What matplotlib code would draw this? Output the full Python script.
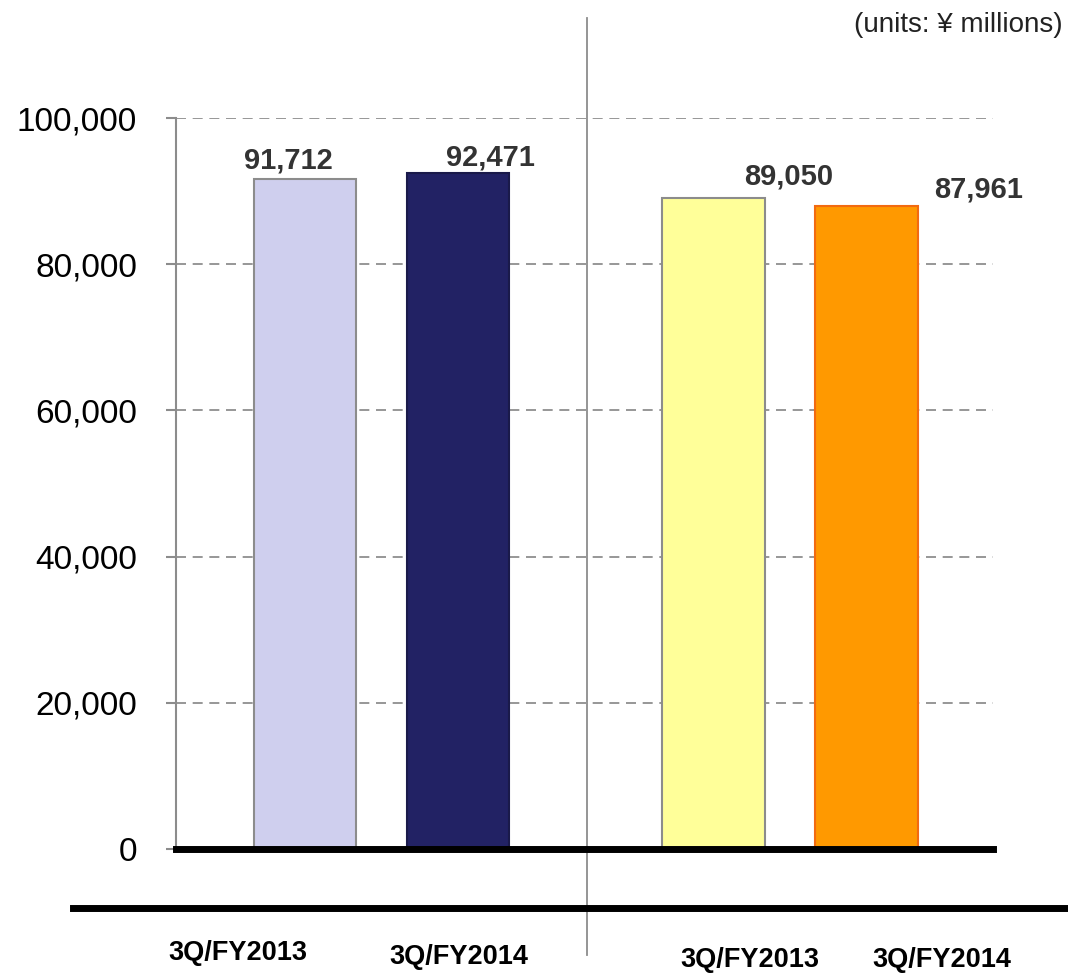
import matplotlib
matplotlib.use("Agg")
import matplotlib.pyplot as plt
from matplotlib.lines import Line2D
import matplotlib.ticker as mticker

plt.rcParams["font.family"] = ["Liberation Sans", "DejaVu Sans"]

# ─── Data ─────────────────────────────────────────────────────────────────────
periods = ["3Q/FY2013", "3Q/FY2014", "3Q/FY2013", "3Q/FY2014"]
values = [91712, 92471, 89050, 87961]
positions = [0, 1, 2.667, 3.667]

bar_colors = ["#CFCFEE", "#222264", "#FFFF99", "#FF9900"]
edge_colors = ["#8C8C8C", "#1A1A4A", "#8C8C8C", "#F26A10"]
# label offsets (pixels) relative to bar top / bar base
value_offsets = [(-17, 4), (32, 2), (76, 8), (113, 3)]
period_offsets = [(-67, -104), (1, -108), (37, -111), (76, -111)]

fig = plt.figure(figsize=(10.68, 9.77), dpi=100)
ax = fig.add_axes([0.1648, 0.1310, 0.7650, 0.7482])

ax.bar(positions, values, width=0.673, color=bar_colors,
       edgecolor=edge_colors, linewidth=1.5, zorder=3)

ax.set_xlim(-0.843, 4.497)
ax.set_ylim(0, 100000)
ax.yaxis.set_major_locator(mticker.MultipleLocator(20000))
ax.yaxis.set_major_formatter(mticker.FuncFormatter(lambda y, _: f"{y:,.0f}"))
ax.tick_params(axis="y", labelsize=24, length=7, width=1.5, color="#8C8C8C",
               pad=21, labelcolor="black")
ax.set_xticks([])

for s in ["top", "right", "bottom"]:
    ax.spines[s].set_visible(False)
ax.spines["left"].set_color("#8C8C8C")
ax.spines["left"].set_linewidth(1.5)

# dashed gridlines
for y in range(20000, 100001, 20000):
    ax.axhline(y, color="#858585", lw=1.2, ls=(0, (6, 4)), zorder=1)
# thick zero line
ax.axhline(0, color="black", lw=5, zorder=4, clip_on=False)

# value labels
for p, v, (dx, dy) in zip(positions, values, value_offsets):
    ax.annotate(f"{v:,}", (p, v), xytext=(dx, dy), textcoords="offset pixels",
                ha="center", va="bottom", fontsize=21, fontweight="bold",
                color="#333333", zorder=5)

# period labels below axis
for p, lab, (dx, dy) in zip(positions, periods, period_offsets):
    ax.annotate(lab, (p, 0), xytext=(dx, dy), textcoords="offset pixels",
                ha="center", va="center", fontsize=19.5, fontweight="bold",
                color="black", annotation_clip=False)

# vertical divider between the two groups
ax.axvline(1.843, ymin=-0.145, ymax=1.137, color="#8C8C8C", lw=1.3,
           clip_on=False, zorder=2)

# second thick baseline
fig.add_artist(Line2D([73 / 1068, 1.0], [1 - 908 / 977, 1 - 908 / 977],
                      color="black", lw=5))

fig.text(1063 / 1068, 1 - 25 / 977, "(units: ¥ millions)", ha="right",
         va="center", fontsize=20, color="#222222")

fig.savefig("out.png", dpi=100)
